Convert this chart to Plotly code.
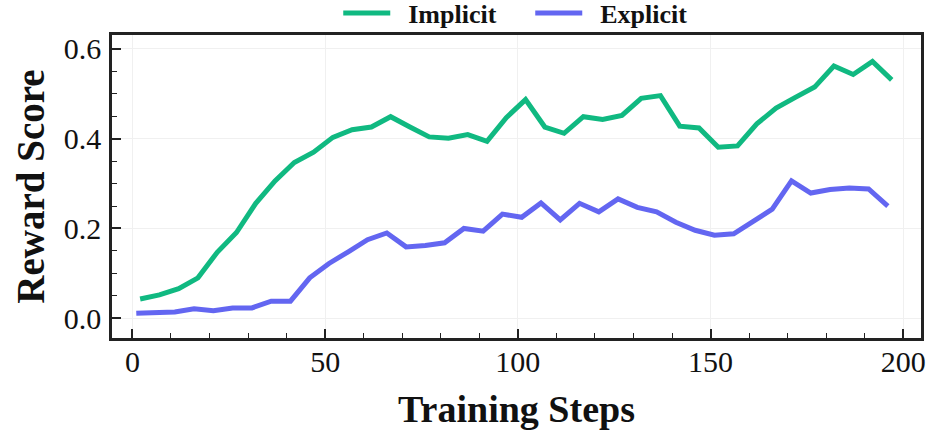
import plotly.graph_objects as go

steps_implicit = list(range(2, 198, 5))
steps_explicit = list(range(1, 197, 5))

implicit = [0.043, 0.052, 0.066, 0.090, 0.147, 0.191, 0.256, 0.306, 0.347, 0.370,
            0.403, 0.420, 0.426, 0.449, 0.426, 0.404, 0.401, 0.409, 0.394, 0.447,
            0.487, 0.426, 0.412, 0.449, 0.443, 0.452, 0.490, 0.496, 0.428, 0.424,
            0.381, 0.384, 0.433, 0.468, 0.492, 0.515, 0.562, 0.543, 0.572, 0.531]

explicit = [0.011, 0.013, 0.014, 0.021, 0.017, 0.023, 0.023, 0.038, 0.038, 0.090,
            0.122, 0.148, 0.175, 0.190, 0.159, 0.162, 0.168, 0.200, 0.194, 0.232,
            0.225, 0.257, 0.219, 0.256, 0.237, 0.266, 0.247, 0.237, 0.214, 0.196,
            0.185, 0.188, 0.216, 0.243, 0.306, 0.279, 0.287, 0.290, 0.288, 0.250]

x_ticks = [0, 50, 100, 150, 200]
y_ticks = [0.0, 0.2, 0.4, 0.6]
y_ticktext = ["0.0", "0.2", "0.4", "0.6"]

FONT = "Liberation Serif"
PAD = "\u00a0\u00a0"

fig = go.Figure()
fig.add_trace(go.Scatter(x=steps_implicit, y=implicit, mode="lines", name=PAD + "<b>Implicit</b>",
                         line=dict(color="#10B981", width=5)))
fig.add_trace(go.Scatter(x=steps_explicit, y=explicit, mode="lines", name=PAD + "<b>Explicit</b>",
                         line=dict(color="#6366F1", width=5)))

axis_common = dict(
    showline=True, linewidth=2.5, linecolor="#222222", mirror=True,
    ticks="inside", ticklen=9, tickwidth=1.8, tickcolor="#222222",
    showgrid=True, gridcolor="#F0F0F0", gridwidth=1, zeroline=False,
    tickfont=dict(family=FONT, size=30, color="#111111"),
)

fig.update_xaxes(
    range=[-5.3, 204.6], tickmode="array", tickvals=x_ticks,
    ticklabelstandoff=-5,
    minor=dict(ticks="inside", ticklen=5, tickwidth=1.3, tickcolor="#222222", dtick=10, tick0=0, showgrid=False),
    title=dict(text="<b>Training Steps</b>", font=dict(family=FONT, size=38, color="#111111"), standoff=19),
    **axis_common,
)
fig.update_yaxes(
    range=[-0.044, 0.631], tickmode="array", tickvals=y_ticks, ticktext=y_ticktext,
    ticklabelstandoff=2,
    minor=dict(ticks="inside", ticklen=5, tickwidth=1.3, tickcolor="#222222", dtick=0.05, tick0=0, showgrid=False),
    title=dict(text="<b>Reward Score</b>", font=dict(family=FONT, size=39, color="#111111"), standoff=8),
    **axis_common,
)

fig.update_layout(
    width=928, height=431,
    margin=dict(l=112, r=7, t=35, b=93, autoexpand=False),
    plot_bgcolor="white", paper_bgcolor="white",
    showlegend=True,
    legend=dict(orientation="h", x=0.517, xanchor="center", y=1.0726, yanchor="middle",
                font=dict(family=FONT, size=26, color="#111111"),
                bgcolor="rgba(0,0,0,0)", tracegroupgap=0,
                itemwidth=47, entrywidth=130, entrywidthmode="pixels"),
)

fig.write_html("out.html", config={"displayModeBar": False},
               post_script="document.body.style.margin='0px';")
